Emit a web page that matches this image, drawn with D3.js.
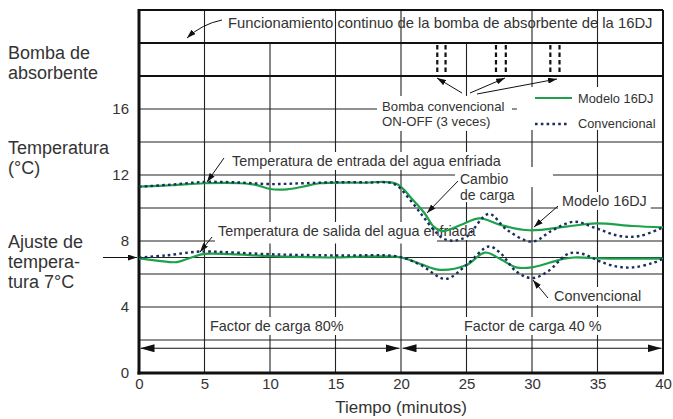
<!DOCTYPE html>
<html>
<head>
<meta charset="utf-8">
<script src="https://cdn.jsdelivr.net/npm/d3@7"></script>
<style>
body {margin: 0; background: #fff;}
text {font-family: "Liberation Sans", Arial, Helvetica, sans-serif; fill: #333;}
</style>
</head>
<body>
<svg id="chart" width="673" height="419"></svg>
<script>
// readings: time (min) / temperature (°C)
let tInNew = [0, 2.5, 5, 7.7, 9, 10, 11.3, 12.5, 13.8, 17, 19.6, 20.9, 21.8, 22.5, 23.2, 24.5, 26.0, 27.6, 29.8, 32.6, 34.9, 37.7, 40]
let vInNew = [11.29, 11.38, 11.5, 11.5, 11.39, 11.15, 11.13, 11.29, 11.5, 11.53, 11.48, 10.5, 9.68, 8.87, 8.6, 8.95, 9.37, 8.97, 8.65, 8.87, 9.07, 8.91, 8.83]

let tInOld = [0, 2.5, 5, 7.5, 10, 12.5, 15, 17.5, 19.5, 20.7, 21.7, 22.5, 23.2, 24, 25, 26.7, 28.1, 30, 31.6, 33.2, 34.9, 36.7, 38.2, 40]
let vInOld = [11.29, 11.42, 11.58, 11.55, 11.45, 11.5, 11.56, 11.55, 11.45, 10.48, 9.47, 8.67, 8.16, 8.02, 8.26, 9.64, 8.67, 7.96, 8.67, 9.17, 8.77, 8.3, 8.3, 8.83]

let tOutNew = [0, 1.5, 2.9, 4.0, 5, 7, 10, 14.4, 20, 21.5, 23, 25, 26.4, 27.6, 28.8, 30.1, 32.1, 33.2, 35.2, 40]
let vOutNew = [6.95, 6.8, 6.72, 7.0, 7.22, 7.2, 7.08, 7.0, 7.0, 6.6, 6.25, 6.55, 7.3, 6.9, 6.4, 6.42, 6.86, 7.0, 6.95, 6.93]

let tOutOld = [0, 2, 4.4, 5.5, 10, 15, 19.8, 21.5, 23.4, 25, 26.7, 27.6, 28.8, 30, 31.2, 32.6, 33.2, 34.1, 35.2, 36.5, 37.7, 39.2, 40]
let vOutOld = [7.0, 7.12, 7.35, 7.36, 7.2, 7.12, 7.05, 6.55, 5.7, 6.55, 7.67, 7.26, 6.15, 5.75, 6.15, 7.16, 7.3, 7.16, 6.76, 6.45, 6.4, 6.66, 6.92]

// conventional pump switching times (on / off pairs)
let pumpTimes = [22.77, 23.4, 27.25, 28.0, 31.4, 32.1]

let xTicks = [0, 5, 10, 15, 20, 25, 30, 35, 40]
let yTicks = [0, 4, 8, 12, 16]
let gridH = [2, 4, 6, 7, 8, 10, 12, 14, 16]
let gridV = [5, 10, 15, 20, 25, 30, 35]
let topGridV = [5, 15, 20, 30, 35]

let green = "#1da24b"
let navy = "#1c2c5c"

let svg = d3.select("#chart")
let x = d3.scaleLinear().domain([0, 40]).range([139, 663])
let y = d3.scaleLinear().domain([0, 22]).range([373, 10])

let defs = svg.append("defs")
defs.append("marker").attr("id", "arr")
    .attr("markerUnits", "userSpaceOnUse")
    .attr("markerWidth", 9).attr("markerHeight", 6)
    .attr("refX", 9).attr("refY", 3).attr("orient", "auto")
    .append("path").attr("d", "M0,0 L9,3 L0,6 z").attr("fill", "#111")
defs.append("marker").attr("id", "bigArr")
    .attr("markerUnits", "userSpaceOnUse")
    .attr("markerWidth", 14).attr("markerHeight", 8)
    .attr("refX", 14).attr("refY", 4).attr("orient", "auto-start-reverse")
    .append("path").attr("d", "M0,0 L14,4 L0,8 z").attr("fill", "#111")

// grid
let grid = svg.append("g").attr("stroke", "#222").attr("stroke-width", 1.1)
grid.selectAll(".gh").data(gridH).enter().append("line")
    .attr("x1", x(0)).attr("x2", x(40))
    .attr("y1", d => y(d)).attr("y2", d => y(d))
grid.selectAll(".gv").data(gridV).enter().append("line")
    .attr("x1", d => x(d)).attr("x2", d => x(d))
    .attr("y1", y(0)).attr("y2", y(20))
grid.selectAll(".gt").data(topGridV).enter().append("line")
    .attr("x1", d => x(d)).attr("x2", d => x(d))
    .attr("y1", y(20)).attr("y2", y(22))

// masks behind labels
let masks = svg.append("g").attr("fill", "#fff")
function mask(t0, v0, t1, v1) {
    masks.append("rect")
        .attr("x", x(t0)).attr("y", y(v0))
        .attr("width", x(t1) - x(t0)).attr("height", y(v1) - y(v0))
}
mask(18.17, 16.79, 28.47, 14.67)   // bomba convencional
mask(28.85, 17.33, 39.92, 14.73)   // legend
mask(24.12, 12.48, 31.6, 11.27)    // cambio
mask(24.12, 11.27, 29.08, 10.36)   // de carga
mask(5.8, 8.12, 22.75, 7.85)       // under salida label

let labels = svg.append("g")
function label(tx, ty, str, size, pad) {
    let t = labels.append("text")
        .attr("x", tx).attr("y", ty)
        .style("font-size", size + "px")
        .text(str)
    if (pad !== undefined) {
        let b = t.node().getBBox()
        masks.append("rect")
            .attr("x", b.x - pad).attr("y", b.y - 1)
            .attr("width", b.width + 2 * pad).attr("height", b.height + 2)
    }
    return t
}
function multiLabel(tx, ty, lines, size, gap) {
    let t = labels.append("text")
        .attr("x", tx).attr("y", ty)
        .style("font-size", size + "px")
    t.selectAll("tspan").data(lines).enter().append("tspan")
        .attr("x", tx)
        .attr("dy", (d, i) => i ? gap : 0)
        .text(d => d)
    return t
}

// frame
let frame = svg.append("g").attr("stroke", "#111").attr("fill", "none")
frame.selectAll(".band").data([18, 20, 22]).enter().append("line")
    .attr("x1", x(0)).attr("x2", x(40))
    .attr("y1", d => y(d)).attr("y2", d => y(d))
    .attr("stroke-width", 2)
frame.append("line").attr("x1", x(40)).attr("x2", x(40))
    .attr("y1", y(0)).attr("y2", y(22)).attr("stroke-width", 2)
frame.append("line").attr("x1", x(0)).attr("x2", x(0))
    .attr("y1", y(0) + 1.5).attr("y2", y(22) - 1).attr("stroke-width", 3)
frame.append("line").attr("x1", x(0) - 1.5).attr("x2", x(40) + 1)
    .attr("y1", y(0)).attr("y2", y(0)).attr("stroke-width", 3)

// axes
let xAxis = svg.append("g")
    .attr("transform", "translate(0," + y(0) + ")")
    .call(d3.axisBottom(x).tickValues(xTicks).tickSize(0).tickPadding(5))
xAxis.select(".domain").remove()
xAxis.selectAll("text").style("font-size", "15px").attr("fill", "#333")
    .style("font-family", "Liberation Sans, Arial, sans-serif")

let yAxis = svg.append("g")
    .attr("transform", "translate(" + x(0) + ",0)")
    .call(d3.axisLeft(y).tickValues(yTicks).tickSize(0).tickPadding(10))
yAxis.select(".domain").remove()
yAxis.selectAll("text").style("font-size", "15px").attr("fill", "#333")
    .style("font-family", "Liberation Sans, Arial, sans-serif")

svg.append("text")
    .attr("x", x(20)).attr("y", 413)
    .style("text-anchor", "middle")
    .style("font-size", "17px")
    .text("Tiempo (minutos)")

// left side labels
multiLabel(8, 59, ["Bomba de", "absorbente"], 18, 20)
multiLabel(8, 154, ["Temperatura", "(°C)"], 18, 20)
multiLabel(8, 248, ["Ajuste de", "tempera-", "tura 7°C"], 18, 20)

// annotations
label(228, 28, "Funcionamiento continuo de la bomba de absorbente de la 16DJ", 14.8)
multiLabel(382, 111, ["Bomba convencional", "ON-OFF (3 veces)"], 13.2, 15)
label(232, 166, "Temperatura de entrada del agua enfriada", 14.4, 3)
label(218, 236, "Temperatura de salida del agua enfriada", 14.4, 3)
multiLabel(460, 184, ["Cambio", "de carga"], 14, 16)
label(562, 206, "Modelo 16DJ", 14.4, 4)
label(554, 301, "Convencional", 14.4, 3)
label(210, 331, "Factor de carga 80%", 14.4, 3)
label(464, 331, "Factor de carga 40 %", 14.4, 3)

// legend
let legend = svg.append("g")
legend.append("line").attr("x1", 535).attr("x2", 572).attr("y1", 98).attr("y2", 98)
    .attr("stroke", green).attr("stroke-width", 2.2)
legend.append("line").attr("x1", 535).attr("x2", 569).attr("y1", 124).attr("y2", 124)
    .attr("stroke", navy).attr("stroke-width", 2.4).attr("stroke-dasharray", "2.6,3.2")
label(578, 103, "Modelo 16DJ", 12.8)
label(578, 128, "Convencional", 12.8)

// pump on/off dashes
svg.append("g").selectAll("line").data(pumpTimes).enter().append("line")
    .attr("x1", d => x(d)).attr("x2", d => x(d))
    .attr("y1", y(20) + 2).attr("y2", y(18) - 2)
    .attr("stroke", "#111").attr("stroke-width", 2.2)
    .attr("stroke-dasharray", "4.5,3")

// curves
let line = d3.line()
    .x(d => x(d[0])).y(d => y(d[1]))
    .curve(d3.curveCatmullRom.alpha(0.5))
let series = [
    {t: tInNew, v: vInNew, c: green, dash: null},
    {t: tOutNew, v: vOutNew, c: green, dash: null},
    {t: tInOld, v: vInOld, c: navy, dash: "2.6,3.2"},
    {t: tOutOld, v: vOutOld, c: navy, dash: "2.6,3.2"}
]
svg.append("g").selectAll("path").data(series).enter().append("path")
    .attr("d", s => line(s.t.map((t, i) => [t, s.v[i]])))
    .attr("fill", "none")
    .attr("stroke", s => s.c)
    .attr("stroke-width", s => s.dash ? 2.4 : 2.2)
    .attr("stroke-dasharray", s => s.dash)

// pointer arrows
let arrows = svg.append("g").attr("stroke", "#111").attr("stroke-width", 1).attr("fill", "none")
let pointers = [
    "M222,20 Q202,24 187,38",
    "M224,158 L207,182",
    "M212,237 L200,252",
    "M458,181 L427,213",
    "M558,206 L534,227",
    "M548,298 L533,280",
    "M462,93 L437,78",
    "M470,93 L505,78",
    "M477,94 L557,79",
    "M103,257.5 L137,257.5"
]
arrows.selectAll("path").data(pointers).enter().append("path")
    .attr("d", d => d)
    .attr("marker-end", "url(#arr)")

// load factor spans
let spans = [[0, 20], [20, 40]]
arrows.selectAll(".span").data(spans).enter().append("line")
    .attr("x1", d => x(d[0]) + 1.5).attr("x2", d => x(d[1]) - 1.5)
    .attr("y1", y(1.5)).attr("y2", y(1.5))
    .attr("stroke-width", 1.2)
    .attr("marker-start", "url(#bigArr)")
    .attr("marker-end", "url(#bigArr)")
</script>
</body>
</html>
